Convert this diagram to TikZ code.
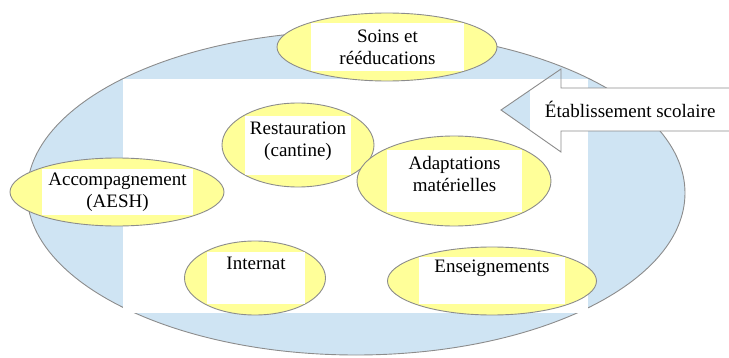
\documentclass[tikz,border=0pt]{standalone}
\usepackage{fontspec}
\setmainfont{Liberation Serif}
\usepackage{tikz}
\usetikzlibrary{positioning,shapes.geometric}
\definecolor{skyfill}{RGB}{207,228,243}
\definecolor{bubblefill}{RGB}{255,255,153}
\definecolor{edgegray}{RGB}{140,140,140}
\tikzset{
        bubble/.style={ellipse, draw=edgegray, line width=0.9pt, fill=bubblefill, inner sep=0pt}, % yellow ellipses
        card/.style={rectangle, fill=white, inner sep=0pt, align=center,
                font=\fontsize{19}{22}\selectfont}, % white text boxes
}

\begin{document}
\begin{tikzpicture}[x=1pt,y=1pt]
\useasboundingbox (0,0) rectangle (729,357);

% school
\draw[edgegray, line width=0.9pt, fill=skyfill] (356,164) ellipse [x radius=329, y radius=162];
\fill[white] (123,44) rectangle (588,278);

\node[bubble, minimum width=220, minimum height=68] (soins) at (387,310) {};
\node[card, minimum width=153, minimum height=48] (soinsT) at (387.5,310) {Soins et\\rééducations};

\node[bubble, minimum width=152, minimum height=84] (resto) at (298,212) {};
\node[card, minimum width=106, minimum height=59] (restoT) at (298,211.5) {Restauration\\(cantine)\\[-10pt]};

\node[bubble, minimum width=214, minimum height=68] (aesh) at (117,165) {};
\node[card, minimum width=151, minimum height=46] (aeshT) at (117.5,165) {Accompagnement\\(AESH)};

\node[bubble, minimum width=194, minimum height=90] (adapt) at (454,176) {};
\node[card, minimum width=135, minimum height=62] (adaptT) at (454.5,176) {Adaptations\\matérielles\\[-8pt]};

\node[bubble, minimum width=141, minimum height=74] (internat) at (255,79) {};
\node[card, minimum width=98, minimum height=52] (internatT) at (256,79) {Internat\\\strut};

\node[bubble, minimum width=209, minimum height=68] (enseign) at (492,76) {};
\node[card, minimum width=146, minimum height=47] (enseignT) at (492,76.5) {Enseignements\\\strut};

% arrow
\begin{scope}
\clip (495,200) rectangle (530,295);
\fill[skyfill] (561,288) -- (501,247) -- (561,205) -- cycle;
\end{scope}
\node[card, minimum width=200, minimum height=43, anchor=west] (etab) at (530,247.5) {Établissement scolaire};
\draw[edgegray, line width=0.9pt] (729,269) -- (561,269) -- (561,288) -- (501,247) -- (561,205) -- (561,226) -- (729,226);

\end{tikzpicture}
\end{document}
